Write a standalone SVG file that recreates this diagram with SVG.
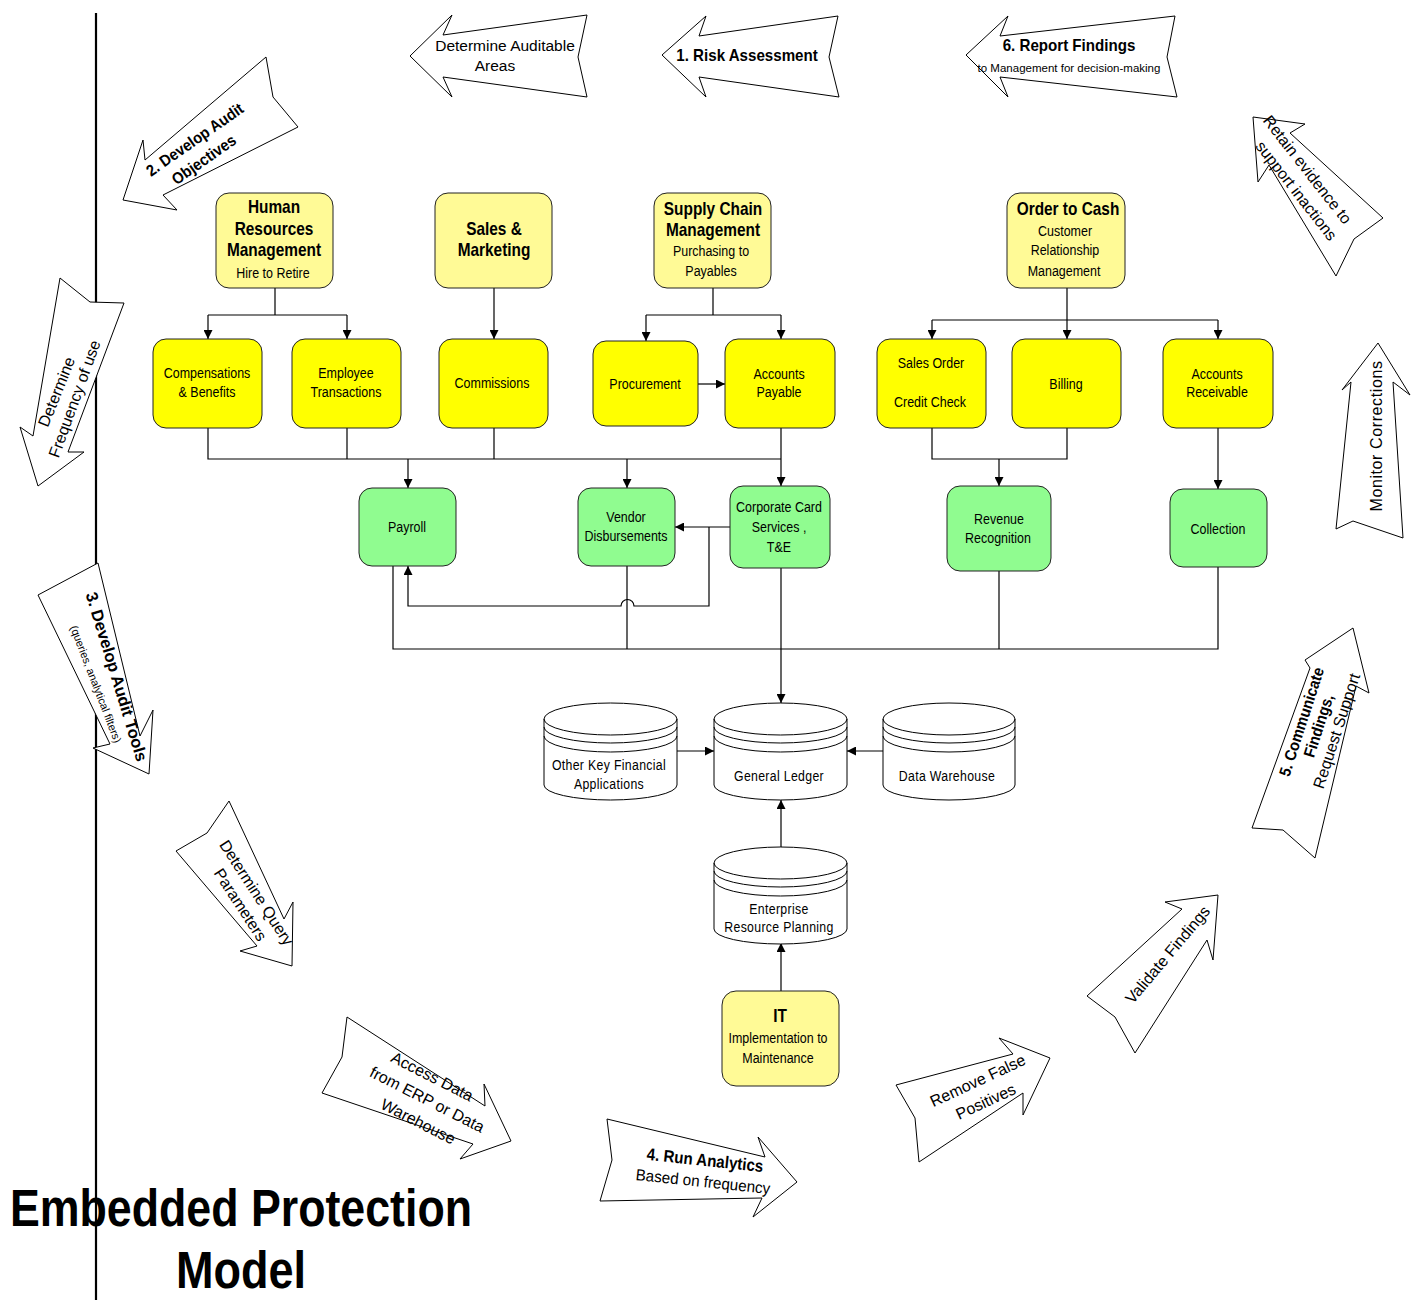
<svg xmlns="http://www.w3.org/2000/svg" width="1413" height="1300" viewBox="0 0 1413 1300">
<style>
.n1{fill:#FFFA96;stroke:#222;stroke-width:1}
.n2{fill:#FFFF00;stroke:#222;stroke-width:1}
.n3{fill:#90FC90;stroke:#222;stroke-width:1}
.db{fill:#fff;stroke:#000;stroke-width:1}
.dl{fill:none;stroke:#000;stroke-width:1}
.t,.tb,.td,.nar{transform-box:fill-box;transform-origin:center}
.t{font-family:"Liberation Sans",Arial,sans-serif;font-size:14.5px;text-anchor:middle;fill:#000;transform:scaleX(0.86)}
.tb{font-family:"Liberation Sans",Arial,sans-serif;font-size:17.5px;font-weight:bold;text-anchor:middle;fill:#000;transform:scaleX(0.88)}
.td{font-family:"Liberation Sans",Arial,sans-serif;font-size:15px;letter-spacing:0.4px;text-anchor:middle;fill:#000;transform:scaleX(0.82)}
.ar{fill:#fff;stroke:#000;stroke-width:1}
.at{font-family:"Liberation Sans",Arial,sans-serif;font-size:15px;text-anchor:middle;fill:#000}
.atb{font-family:"Liberation Sans",Arial,sans-serif;font-size:17px;font-weight:bold;text-anchor:middle;fill:#000}
.nar{transform:scaleX(0.89)}
.c{fill:none;stroke:#000;stroke-width:1.2}
.title{font-family:"Liberation Sans",Arial,sans-serif;font-size:51px;font-weight:bold;text-anchor:middle;fill:#000}
</style>
<defs>
<marker id="ah" viewBox="0 0 10 10" refX="10" refY="5" markerWidth="13" markerHeight="9" orient="auto" markerUnits="userSpaceOnUse"><path d="M0,0 L10,5 L0,10 z" fill="#000"/></marker>
</defs>

<line x1="96" y1="13" x2="96" y2="1300" stroke="#000" stroke-width="2.2"/>

<!-- process arrows -->
<g id="arrow-determine-auditable">
<polygon class="ar" points="410,56 452,15 443,35 587,15 578,57 587,97 443,77 452,97"/>
<text class="at" x="505" y="51" style="font-size:15.5px">Determine Auditable</text>
<text class="at" x="495" y="71" style="font-size:15.5px">Areas</text>
</g>
<g id="arrow-risk">
<polygon class="ar" points="662,55 706,16 699,36 838,16 829,57 839,97 699,77 706,97"/>
<text class="atb nar" x="747" y="61">1. Risk Assessment</text>
</g>
<g id="arrow-report">
<polygon class="ar" points="966,55 1008,16 1000,36 1175,16 1167,57 1177,97 1000,77 1008,97"/>
<text class="atb nar" x="1069" y="51">6. Report Findings</text>
<text class="at" x="1069" y="72" style="font-size:11.5px">to Management for decision-making</text>
</g>
<g id="arrow-objectives">
<polygon class="ar" points="123,200 143,140 145,160 266,57 273,97 298,127 163,195 177,210"/>
<text class="atb" transform="translate(195,140) rotate(-35) scale(0.92,1)" y="5" style="font-size:16px">2. Develop Audit</text>
<text class="atb" transform="translate(204,160) rotate(-35) scale(0.92,1)" y="5" style="font-size:16px">Objectives</text>
</g>
<g id="arrow-retain">
<polygon class="ar" points="1253,117 1305,124 1290,133 1383,218 1354,239 1336,276 1269,165 1258,182"/>
<text class="at" transform="translate(1307,170) rotate(52)" y="5" style="font-size:16px">Retain evidence to</text>
<text class="at" transform="translate(1296,191) rotate(52)" y="5" style="font-size:16px">support inactions</text>
</g>
<g id="arrow-frequency">
<polygon class="ar" points="60,278 90,302 124,303 68,452 84,452 38,486 20,427 33,436"/>
<text class="at" transform="translate(57,392) rotate(-68)" y="5" style="font-size:16px">Determine</text>
<text class="at" transform="translate(75,399) rotate(-70)" y="5" style="font-size:16px">Frequency of use</text>
</g>
<g id="arrow-tools">
<polygon class="ar" points="38,595 98,563 140,736 153,710 149,774 93,748 110,744"/>
<text class="atb" transform="translate(116,677) rotate(73)" y="5" style="font-size:16.5px">3. Develop Audit Tools</text>
<text class="at" transform="translate(96,684) rotate(69)" y="4" style="font-size:11px">(queries, analytical filters)</text>
</g>
<g id="arrow-monitor">
<polygon class="ar" points="1378,343 1410,395 1393,382 1403,538 1353,521 1336,529 1351,382 1342,390"/>
<text class="at" transform="translate(1377,436) rotate(-90)" y="5" style="font-size:16px;letter-spacing:0.6px">Monitor Corrections</text>
</g>
<g id="arrow-communicate">
<polygon class="ar" points="1353,628 1369,693 1356,686 1315,858 1283,830 1252,828 1310,668 1305,660"/>
<text class="atb" transform="translate(1302,722) rotate(-72) scale(0.92,1)" y="5" style="font-size:16px">5. Communicate</text>
<text class="atb" transform="translate(1319,726) rotate(-72) scale(0.92,1)" y="5" style="font-size:16px">Findings,</text>
<text class="at" transform="translate(1337,731) rotate(-72)" y="5" style="font-size:16px">Request Support</text>
</g>
<g id="arrow-query">
<polygon class="ar" points="176,851 207,833 229,801 284,919 293,902 292,966 240,951 257,946"/>
<text class="at" transform="translate(256,893) rotate(57)" y="5" style="font-size:16px">Determine Query</text>
<text class="at" transform="translate(240,905) rotate(57)" y="5" style="font-size:16px">Parameters</text>
</g>
<g id="arrow-access">
<polygon class="ar" points="347,1017 342,1057 322,1093 473,1144 460,1159 511,1141 484,1084 485,1106"/>
<text class="at" transform="translate(432,1077) rotate(27)" y="5" style="font-size:16px">Access Data</text>
<text class="at" transform="translate(427,1100) rotate(27)" y="5" style="font-size:16px">from ERP or Data</text>
<text class="at" transform="translate(418,1122) rotate(27)" y="5" style="font-size:16px">Warehouse</text>
</g>
<g id="arrow-run">
<polygon class="ar" points="607,1119 612,1160 600,1201 762,1198 753,1217 797,1182 758,1137 765,1157"/>
<text class="atb" transform="translate(705,1161) rotate(6) scale(0.89,1)" y="5">4. Run Analytics</text>
<text class="at" transform="translate(703,1182) rotate(6) scale(0.95,1)" y="5" style="font-size:16px">Based on frequency</text>
</g>
<g id="arrow-remove">
<polygon class="ar" points="896,1085 915,1118 919,1162 1023,1093 1023,1115 1050,1058 999,1038 1013,1054"/>
<text class="at" transform="translate(978,1081) rotate(-25)" y="5" style="font-size:16px">Remove False</text>
<text class="at" transform="translate(986,1102) rotate(-25)" y="5" style="font-size:16px">Positives</text>
</g>
<g id="arrow-validate">
<polygon class="ar" points="1087,996 1115,1017 1135,1053 1207,940 1213,960 1218,895 1165,902 1182,909"/>
<text class="at" transform="translate(1168,955) rotate(-50)" y="5" style="font-size:16px">Validate Findings</text>
</g>

<!-- connectors -->
<g id="connectors">
<path class="c" d="M275,288 V315 M208,315 H347"/>
<path class="c" d="M208,315 V339" marker-end="url(#ah)"/>
<path class="c" d="M347,315 V339" marker-end="url(#ah)"/>
<path class="c" d="M494,288 V339" marker-end="url(#ah)"/>
<path class="c" d="M713,288 V315 M646,315 H781"/>
<path class="c" d="M646,315 V341" marker-end="url(#ah)"/>
<path class="c" d="M781,315 V339" marker-end="url(#ah)"/>
<path class="c" d="M698,384 H725" marker-end="url(#ah)"/>
<path class="c" d="M1067,288 V320 M932,320 H1218"/>
<path class="c" d="M932,320 V339" marker-end="url(#ah)"/>
<path class="c" d="M1067,320 V339" marker-end="url(#ah)"/>
<path class="c" d="M1218,320 V339" marker-end="url(#ah)"/>
<path class="c" d="M208,428 V459 H781 M347,428 V459 M494,428 V459 M781,428 V459"/>
<path class="c" d="M408,459 V488" marker-end="url(#ah)"/>
<path class="c" d="M627,459 V488" marker-end="url(#ah)"/>
<path class="c" d="M781,459 V486" marker-end="url(#ah)"/>
<path class="c" d="M932,428 V459 H1067 V428"/>
<path class="c" d="M999,459 V486" marker-end="url(#ah)"/>
<path class="c" d="M1218,428 V489" marker-end="url(#ah)"/>
<path class="c" d="M730,527 H675" marker-end="url(#ah)"/>
<path class="c" d="M709,527 V606 H634 A6,6 0 0 0 621,606 H408 V566" marker-end="url(#ah)"/>
<path class="c" d="M393,566 V649 H1218 V567 M627,566 V649 M999,571 V649"/>
<path class="c" d="M781,568 V703" marker-end="url(#ah)"/>
<path class="c" d="M677,751 H714" marker-end="url(#ah)"/>
<path class="c" d="M883,751 H847" marker-end="url(#ah)"/>
<path class="c" d="M781,847 V800" marker-end="url(#ah)"/>
<path class="c" d="M781,991 V943" marker-end="url(#ah)"/>
</g>

<!-- top level nodes -->
<g id="node-hr">
<rect class="n1" x="216" y="193" width="117" height="95" rx="13"/>
<text class="tb" x="274" y="213">Human</text>
<text class="tb" x="274" y="235">Resources</text>
<text class="tb" x="274" y="256">Management</text>
<text class="t" x="273" y="278">Hire to Retire</text>
</g>
<g id="node-sales">
<rect class="n1" x="435" y="193" width="117" height="95" rx="13"/>
<text class="tb" x="494" y="235">Sales &amp;</text>
<text class="tb" x="494" y="256">Marketing</text>
</g>
<g id="node-scm">
<rect class="n1" x="654" y="193" width="117" height="95" rx="13"/>
<text class="tb" x="713" y="215">Supply Chain</text>
<text class="tb" x="713" y="236">Management</text>
<text class="t" x="711" y="256">Purchasing to</text>
<text class="t" x="711" y="276">Payables</text>
</g>
<g id="node-otc">
<rect class="n1" x="1007" y="193" width="118" height="95" rx="13"/>
<text class="tb" x="1068" y="215">Order to Cash</text>
<text class="t" x="1065" y="236">Customer</text>
<text class="t" x="1065" y="255">Relationship</text>
<text class="t" x="1064" y="276">Management</text>
</g>

<!-- second level -->
<g id="node-comp">
<rect class="n2" x="153" y="339" width="109" height="89" rx="13"/>
<text class="t" x="207" y="378">Compensations</text>
<text class="t" x="207" y="397">&amp; Benefits</text>
</g>
<g id="node-emp">
<rect class="n2" x="292" y="339" width="109" height="89" rx="13"/>
<text class="t" x="346" y="378">Employee</text>
<text class="t" x="346" y="397">Transactions</text>
</g>
<g id="node-comm">
<rect class="n2" x="439" y="339" width="109" height="89" rx="13"/>
<text class="t" x="492" y="388">Commissions</text>
</g>
<g id="node-proc">
<rect class="n2" x="593" y="341" width="105" height="85" rx="13"/>
<text class="t" x="645" y="389">Procurement</text>
</g>
<g id="node-ap">
<rect class="n2" x="725" y="339" width="110" height="89" rx="13"/>
<text class="t" x="779" y="379">Accounts</text>
<text class="t" x="779" y="397">Payable</text>
</g>
<g id="node-so">
<rect class="n2" x="877" y="339" width="109" height="89" rx="13"/>
<text class="t" x="931" y="368">Sales Order</text>
<text class="t" x="930" y="407">Credit Check</text>
</g>
<g id="node-billing">
<rect class="n2" x="1012" y="339" width="109" height="89" rx="13"/>
<text class="t" x="1066" y="389">Billing</text>
</g>
<g id="node-ar">
<rect class="n2" x="1163" y="339" width="110" height="89" rx="13"/>
<text class="t" x="1217" y="379">Accounts</text>
<text class="t" x="1217" y="397">Receivable</text>
</g>

<!-- green -->
<g id="node-payroll">
<rect class="n3" x="359" y="488" width="97" height="78" rx="13"/>
<text class="t" x="407" y="532">Payroll</text>
</g>
<g id="node-vendor">
<rect class="n3" x="578" y="488" width="97" height="78" rx="13"/>
<text class="t" x="626" y="522">Vendor</text>
<text class="t" x="626" y="541">Disbursements</text>
</g>
<g id="node-corp">
<rect class="n3" x="730" y="486" width="100" height="82" rx="13"/>
<text class="t" x="779" y="512">Corporate Card</text>
<text class="t" x="779" y="532">Services ,</text>
<text class="t" x="779" y="552">T&amp;E</text>
</g>
<g id="node-rev">
<rect class="n3" x="947" y="486" width="104" height="85" rx="13"/>
<text class="t" x="999" y="524">Revenue</text>
<text class="t" x="998" y="543">Recognition</text>
</g>
<g id="node-coll">
<rect class="n3" x="1170" y="489" width="97" height="78" rx="13"/>
<text class="t" x="1218" y="534">Collection</text>
</g>

<!-- databases -->
<g id="db-other">
<path class="db" d="M544,719 A66.5,16 0 0 1 677,719 L677,785 A66.5,15 0 0 1 544,785 Z"/>
<path class="dl" d="M544,719 A66.5,16 0 0 0 677,719 M544,727 A66.5,16 0 0 0 677,727 M544,736 A66.5,16 0 0 0 677,736"/>
<text class="td" x="609" y="770">Other Key Financial</text>
<text class="td" x="609" y="789">Applications</text>
</g>
<g id="db-gl">
<path class="db" d="M714,719 A66.5,16 0 0 1 847,719 L847,785 A66.5,15 0 0 1 714,785 Z"/>
<path class="dl" d="M714,719 A66.5,16 0 0 0 847,719 M714,727 A66.5,16 0 0 0 847,727 M714,736 A66.5,16 0 0 0 847,736"/>
<text class="td" x="779" y="781">General Ledger</text>
</g>
<g id="db-dw">
<path class="db" d="M883,719 A66,16 0 0 1 1015,719 L1015,785 A66,15 0 0 1 883,785 Z"/>
<path class="dl" d="M883,719 A66,16 0 0 0 1015,719 M883,727 A66,16 0 0 0 1015,727 M883,736 A66,16 0 0 0 1015,736"/>
<text class="td" x="947" y="781">Data Warehouse</text>
</g>
<g id="db-erp">
<path class="db" d="M714,863 A66.5,16 0 0 1 847,863 L847,929 A66.5,15 0 0 1 714,929 Z"/>
<path class="dl" d="M714,863 A66.5,16 0 0 0 847,863 M714,871 A66.5,16 0 0 0 847,871 M714,880 A66.5,16 0 0 0 847,880"/>
<text class="td" x="779" y="914">Enterprise</text>
<text class="td" x="779" y="932">Resource Planning</text>
</g>
<g id="node-it">
<rect class="n1" x="722" y="991" width="117" height="95" rx="14"/>
<text class="tb" x="780" y="1022">IT</text>
<text class="t" x="778" y="1043">Implementation to</text>
<text class="t" x="778" y="1063">Maintenance</text>
</g>

<g id="title">
<text class="title" x="241" y="1226" textLength="462" lengthAdjust="spacingAndGlyphs">Embedded Protection</text>
<text class="title" x="241" y="1288" textLength="130" lengthAdjust="spacingAndGlyphs">Model</text>
</g>
</svg>
